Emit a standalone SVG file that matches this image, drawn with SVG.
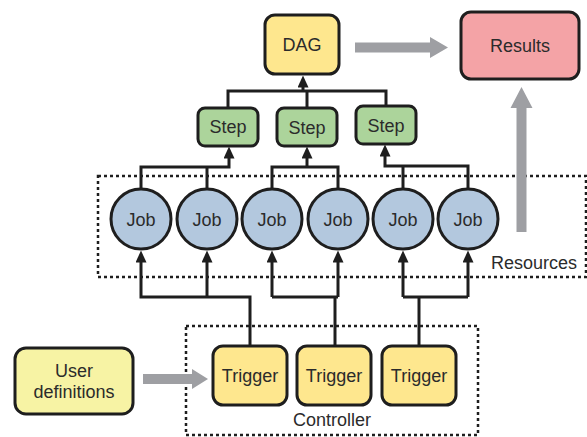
<svg xmlns="http://www.w3.org/2000/svg" width="587" height="437" viewBox="0 0 587 437">
  <defs>
    <marker id="arrow" viewBox="0 0 12 11" refX="4" refY="5.5" markerWidth="12" markerHeight="11" markerUnits="userSpaceOnUse" orient="auto">
      <path d="M0,0 L12,5.5 L0,11 z" fill="#1e1e1e"/>
    </marker>
    <style>
      .box { stroke: #1e1e1e; stroke-width: 3; }
      .dag { fill: #fee78e; }
      .trigger { fill: #fee78e; }
      .user { fill: #f7f3a4; }
      .step { fill: #acd49b; }
      .job { fill: #b3c8de; }
      .results { fill: #f4a3a6; }
      .lbl { font-family: "Liberation Sans", Arial, sans-serif; font-size: 18px; fill: #2b2b2b; text-anchor: middle; }
      .wire { fill: none; stroke: #1e1e1e; stroke-width: 3; }
      .frame { fill: none; stroke: #1e1e1e; stroke-width: 2.5; stroke-dasharray: 3 3; }
      .flow { fill: #9e9fa3; }
    </style>
  </defs>

  <!-- dotted group frames -->
  <g id="resources">
    <rect class="frame" x="98" y="176" width="488" height="101"/>
    <text class="lbl" x="577" y="269" style="text-anchor:end">Resources</text>
  </g>
  <g id="controller">
    <rect class="frame" x="186" y="326" width="292" height="109"/>
    <text class="lbl" x="332" y="426">Controller</text>
  </g>

  <!-- wiring between nodes -->
  <g id="connectors">
    <!-- jobs to steps -->
    <path class="wire" d="M141,189 V167 H229 V154.5" marker-end="url(#arrow)"/>
    <path class="wire" d="M207,189 V167"/>
    <path class="wire" d="M272,189 V167 H338 V189"/>
    <path class="wire" d="M307,167 V154.5" marker-end="url(#arrow)"/>
    <path class="wire" d="M468,189 V166 H385 V152.5" marker-end="url(#arrow)"/>
    <path class="wire" d="M403,189 V166"/>
    <!-- steps to DAG -->
    <path class="wire" d="M228,107 V91 H386 V106"/>
    <path class="wire" d="M307,107 V91"/>
    <path class="wire" d="M303,92 V83.5" marker-end="url(#arrow)"/>
    <!-- triggers to jobs -->
    <path class="wire" d="M250,346 V297 H141 V258.5" marker-end="url(#arrow)"/>
    <path class="wire" d="M207,297 V258.5" marker-end="url(#arrow)"/>
    <path class="wire" d="M335,346 V297"/>
    <path class="wire" d="M272,297 H338"/>
    <path class="wire" d="M272,297 V258.5" marker-end="url(#arrow)"/>
    <path class="wire" d="M338,297 V258.5" marker-end="url(#arrow)"/>
    <path class="wire" d="M419,346 V297"/>
    <path class="wire" d="M403,297 H468"/>
    <path class="wire" d="M403,297 V258.5" marker-end="url(#arrow)"/>
    <path class="wire" d="M468,297 V258.5" marker-end="url(#arrow)"/>
    <!-- broad flow arrows -->
    <polygon class="flow" points="355,42.5 430,42.5 430,37 448,47.5 430,58 430,52.5 355,52.5"/>
    <polygon class="flow" points="143,374 192,374 192,369 208,379 192,389 192,384 143,384"/>
    <polygon class="flow" points="516.5,232 516.5,108 510.5,108 521.5,87 532.5,108 526.5,108 526.5,232"/>
  </g>

  <g id="dag">
    <rect class="box dag" x="265" y="15" width="74" height="59" rx="10"/>
    <text class="lbl" x="302" y="51">DAG</text>
  </g>
  <g id="results">
    <rect class="box results" x="461" y="12" width="118" height="67" rx="10"/>
    <text class="lbl" x="520" y="52">Results</text>
  </g>

  <g id="step1">
    <rect class="box step" x="198" y="108" width="60" height="38" rx="7"/>
    <text class="lbl" x="228" y="133">Step</text>
  </g>
  <g id="step2">
    <rect class="box step" x="277" y="108" width="60" height="38" rx="7"/>
    <text class="lbl" x="307" y="134">Step</text>
  </g>
  <g id="step3">
    <rect class="box step" x="356" y="106" width="60" height="38" rx="7"/>
    <text class="lbl" x="386" y="132">Step</text>
  </g>

  <g id="job1"><circle class="box job" cx="141" cy="219" r="30"/><text class="lbl" x="141" y="226">Job</text></g>
  <g id="job2"><circle class="box job" cx="207" cy="219" r="30"/><text class="lbl" x="207" y="226">Job</text></g>
  <g id="job3"><circle class="box job" cx="272" cy="219" r="30"/><text class="lbl" x="272" y="226">Job</text></g>
  <g id="job4"><circle class="box job" cx="338" cy="219" r="30"/><text class="lbl" x="338" y="226">Job</text></g>
  <g id="job5"><circle class="box job" cx="403" cy="219" r="30"/><text class="lbl" x="403" y="226">Job</text></g>
  <g id="job6"><circle class="box job" cx="468" cy="219" r="30"/><text class="lbl" x="468" y="226">Job</text></g>

  <g id="user-definitions">
    <rect class="box user" x="15" y="348" width="118" height="66" rx="11"/>
    <text class="lbl" x="74" y="377">User</text>
    <text class="lbl" x="74" y="398">definitions</text>
  </g>

  <g id="trigger1">
    <rect class="box trigger" x="213" y="346" width="74" height="59" rx="10"/>
    <text class="lbl" x="250" y="382">Trigger</text>
  </g>
  <g id="trigger2">
    <rect class="box trigger" x="297" y="346" width="74" height="59" rx="10"/>
    <text class="lbl" x="334" y="382">Trigger</text>
  </g>
  <g id="trigger3">
    <rect class="box trigger" x="382" y="346" width="74" height="59" rx="10"/>
    <text class="lbl" x="419" y="382">Trigger</text>
  </g>
</svg>
